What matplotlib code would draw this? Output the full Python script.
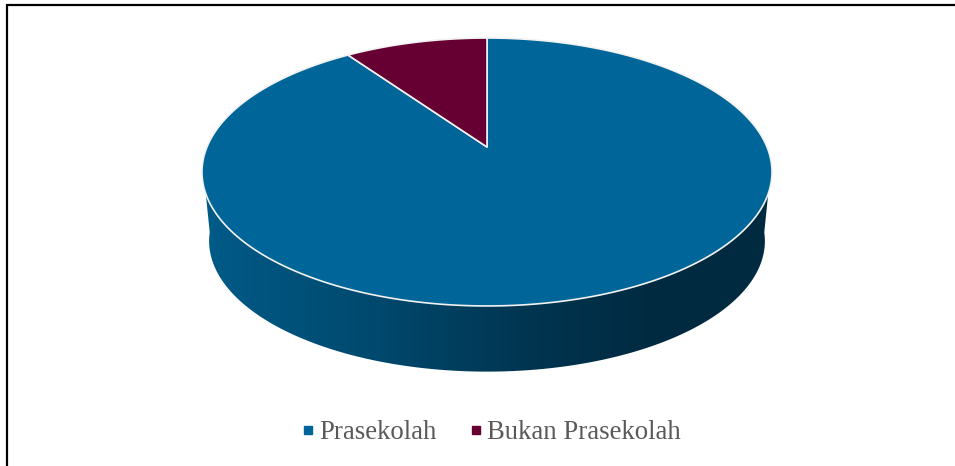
import numpy as np
import matplotlib
matplotlib.use('Agg')
import matplotlib.pyplot as plt
from matplotlib.colors import LinearSegmentedColormap
from matplotlib.lines import Line2D
from matplotlib.patches import Polygon

labels = ['Prasekolah', 'Bukan Prasekolah']
values = [90.3, 9.7]
colors = ['#006699', '#660033']

plt.rcParams['font.family'] = ['Liberation Serif', 'DejaVu Serif']

W = 955
H = 466
cx = 487
apexY = 147
depthScale = 0.975


# pie disc seen in perspective: unit circle -> pixels
def project(x, y):
    c = 0.1866
    return cx + 280 * x / (1 + c * y), apexY - 129.3 * y / (1 + c * y)


def bottomRim(x, y):
    px, py = project(x, y)
    return cx + (px - cx) * depthScale, 241 + (py - 172) * depthScale


fig = plt.figure(figsize=(W / 100, H / 100), dpi=100)
ax = fig.add_axes([0, 0, 1, 1])
ax.set_xlim(0, W)
ax.set_ylim(H, 0)
ax.axis('off')

# side wall, only the front half of the rim shows
t = np.radians(np.linspace(187, 353, 300))
tx, ty = project(np.cos(t), np.sin(t))
bx, by = bottomRim(np.cos(t), np.sin(t))
wall = Polygon(np.column_stack([np.r_[tx, bx[::-1]], np.r_[ty, by[::-1]]]),
               closed=True, fc='none', ec='none')
ax.add_patch(wall)
shade = LinearSegmentedColormap.from_list('wall', [(0, '#005b88'), (0.3, '#00496e'),
                                                   (0.55, '#003652'), (0.8, '#002a40'),
                                                   (1, '#002a40')])
grad = ax.imshow(np.linspace(0, 1, 256).reshape(1, -1), cmap=shade, aspect='auto',
                 extent=[203, 772, 375, 170], zorder=1)
grad.set_clip_path(wall)
ax.set_xlim(0, W)
ax.set_ylim(H, 0)

# top of the pie, clockwise from 12 o'clock
start = 90.0
for val, col in zip(values, colors):
    stop = start - 360.0 * val / sum(values)
    a = np.radians(np.linspace(start, stop, 400))
    px, py = project(np.cos(a), np.sin(a))
    x0, y0 = project(0, 0)
    ax.fill(np.r_[x0, px], np.r_[y0, py], fc=col, ec='#f2f2f2', lw=1.2,
            joinstyle='round', zorder=3)
    start = stop

# frame on the top and left only
ax.plot([6.5, 6.5, W], [H, 4.5, 4.5], color='black', lw=1.6, zorder=5,
        solid_joinstyle='miter')

handles = [Line2D([], [], ls='none', marker='s', ms=5.5, mfc=c, mec=c) for c in colors]
ax.legend(handles, labels, loc='center', bbox_to_anchor=(489, 432.5),
          bbox_transform=ax.transData, ncol=2, frameon=False, fontsize=19.3,
          labelcolor='#595959', handletextpad=0.03, columnspacing=1.05,
          handlelength=0.8, borderpad=0)

fig.savefig('out.png', dpi=100)
